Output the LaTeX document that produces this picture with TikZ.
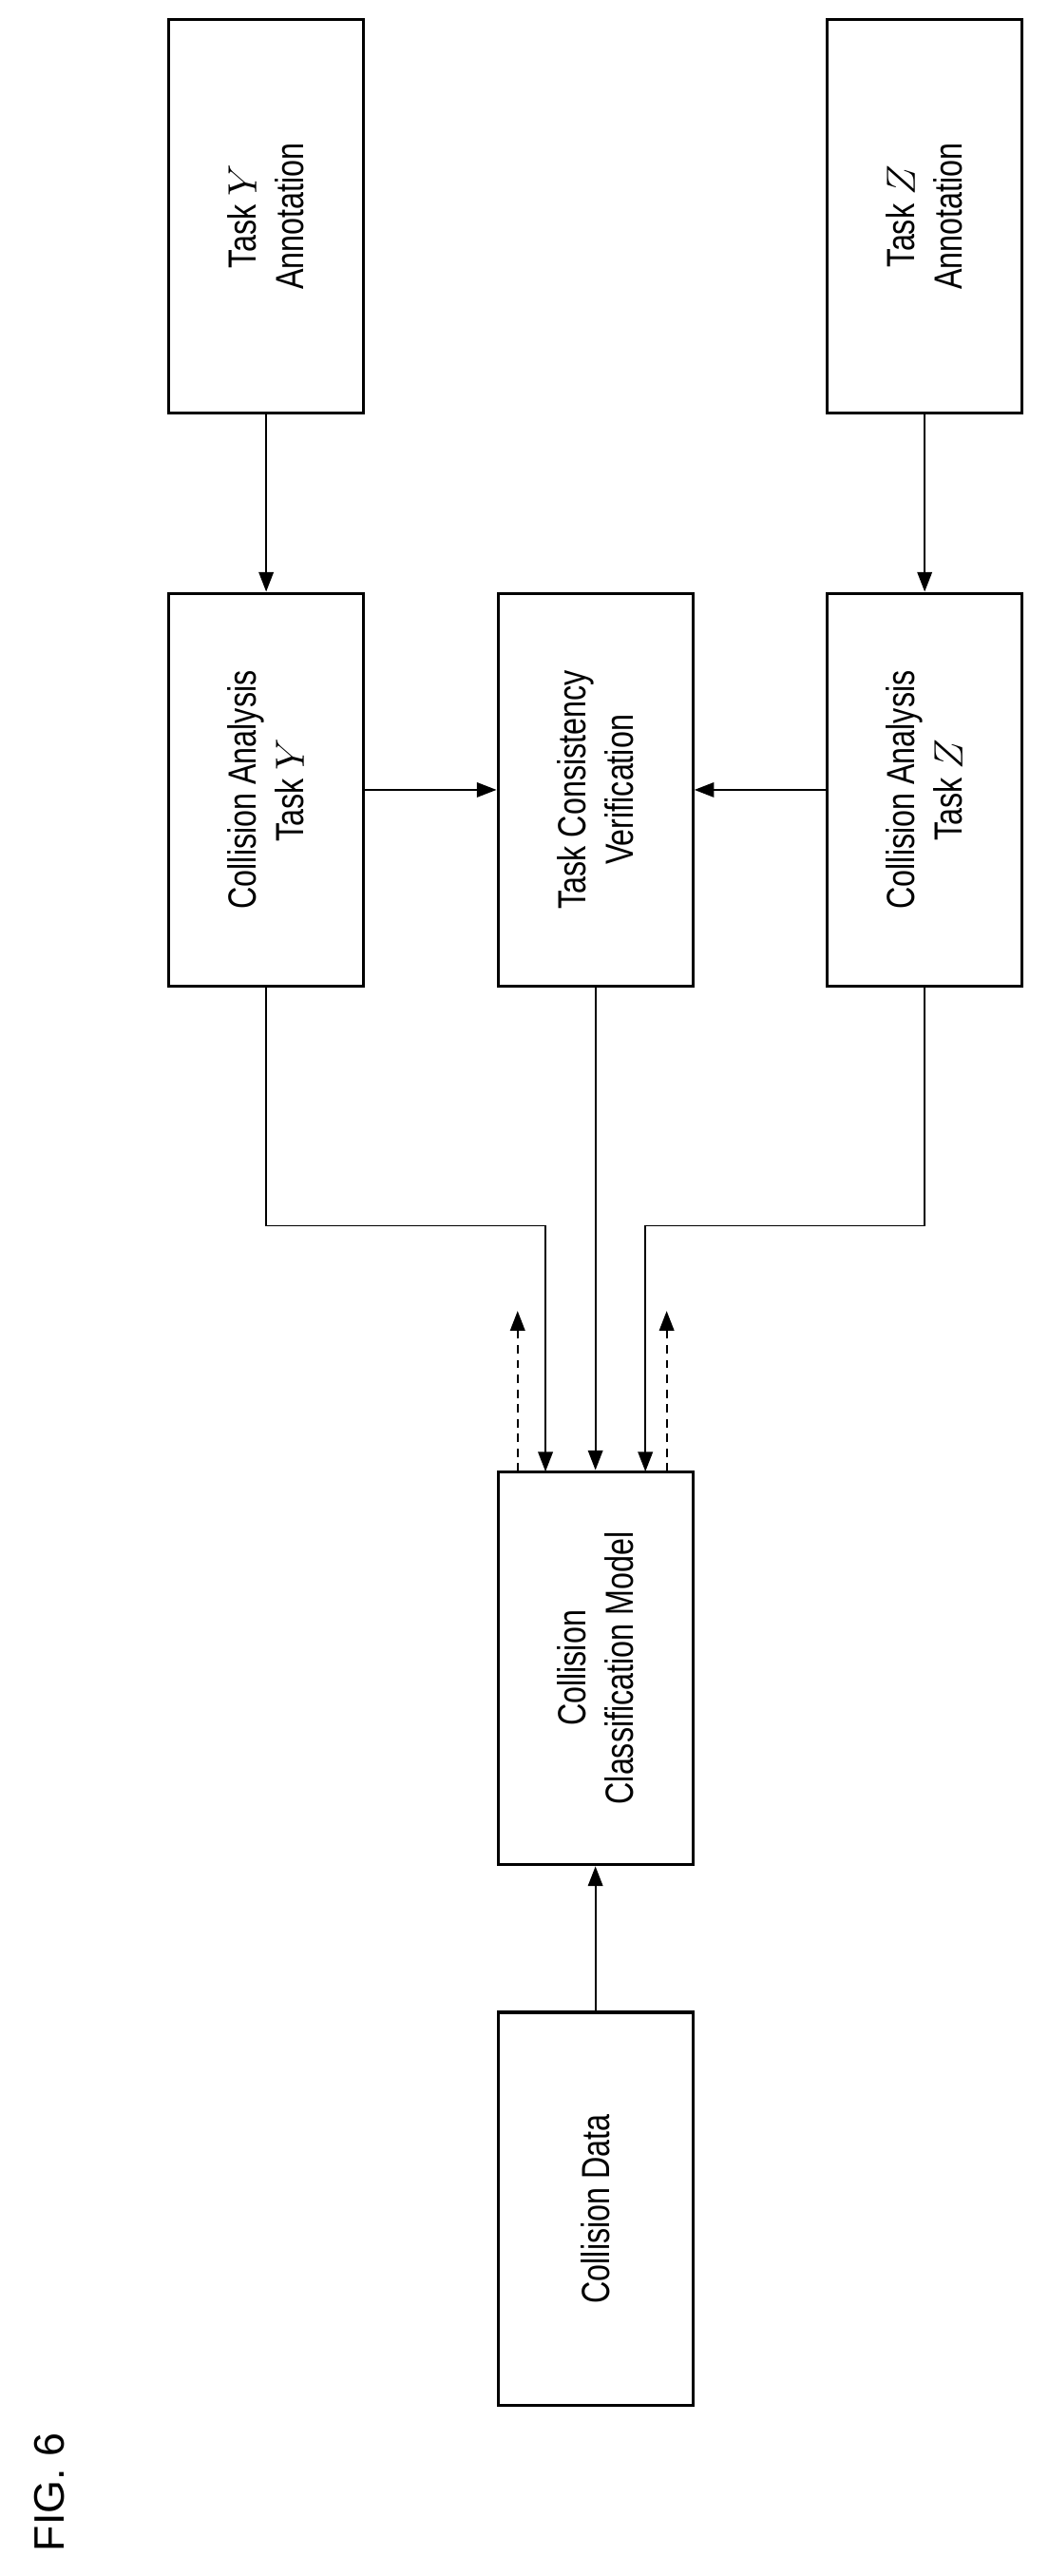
\documentclass[tikz,border=0pt]{standalone}
\usepackage{fontspec}
\setmainfont[FakeStretch=0.78]{Liberation Sans}
\newfontfamily\figfont{Liberation Sans}
\usetikzlibrary{arrows.meta,positioning}

\begin{document}
\begin{tikzpicture}[x=1pt,y=-1pt,
  blk/.style={draw,line width=1.8pt,rotate=90,minimum width=240pt,minimum height=119pt,
    align=center,inner sep=0pt,font=\fontsize{24}{29}\selectfont},
  arr/.style={line width=1.1pt,-{Triangle[length=12pt,width=9pt]}},
  dsh/.style={arr,dashed,dash pattern=on 5pt off 4pt}]
\useasboundingbox (0,0) rectangle (640,1572);

\node[blk] (annY) at (162.5,132) {Task $Y$\\Annotation};
\node[blk] (annZ) at (564.5,132) {Task $Z$\\Annotation};

\node[blk] (taskY) at (162.5,482) {Collision Analysis\\Task $Y$};
\node[blk] (verif) at (363.5,482) {Task Consistency\\Verification};
\node[blk] (taskZ) at (564.5,482) {Collision Analysis\\Task $Z$};

\node[blk] (model) at (363.5,1018) {Collision\\Classification Model};
\node[blk] (data) at (363.5,1348) {Collision Data};

\node[rotate=90,font=\figfont\fontsize{26}{30}\selectfont] (fig) at (30,1521) {FIG. 6};

% connectors
\draw[arr] (annY.west) -- (taskY.east);
\draw[arr] (annZ.west) -- (taskZ.east);
\draw[arr] (taskY.south) -- (verif.north);
\draw[arr] (taskZ.north) -- (verif.south);
\draw[arr] (verif.west) -- (model.east);
\draw[arr] (taskY.west) |- (333,748) -- (333,898);
\draw[arr] (taskZ.west) |- (394,748) -- (394,898);
\draw[arr] (data.east) -- (model.west);

\coordinate (outL) at (316,800);
\coordinate (outR) at (407,800);
\draw[dsh] (316,898) -- (outL);
\draw[dsh] (407,898) -- (outR);
\end{tikzpicture}
\end{document}
